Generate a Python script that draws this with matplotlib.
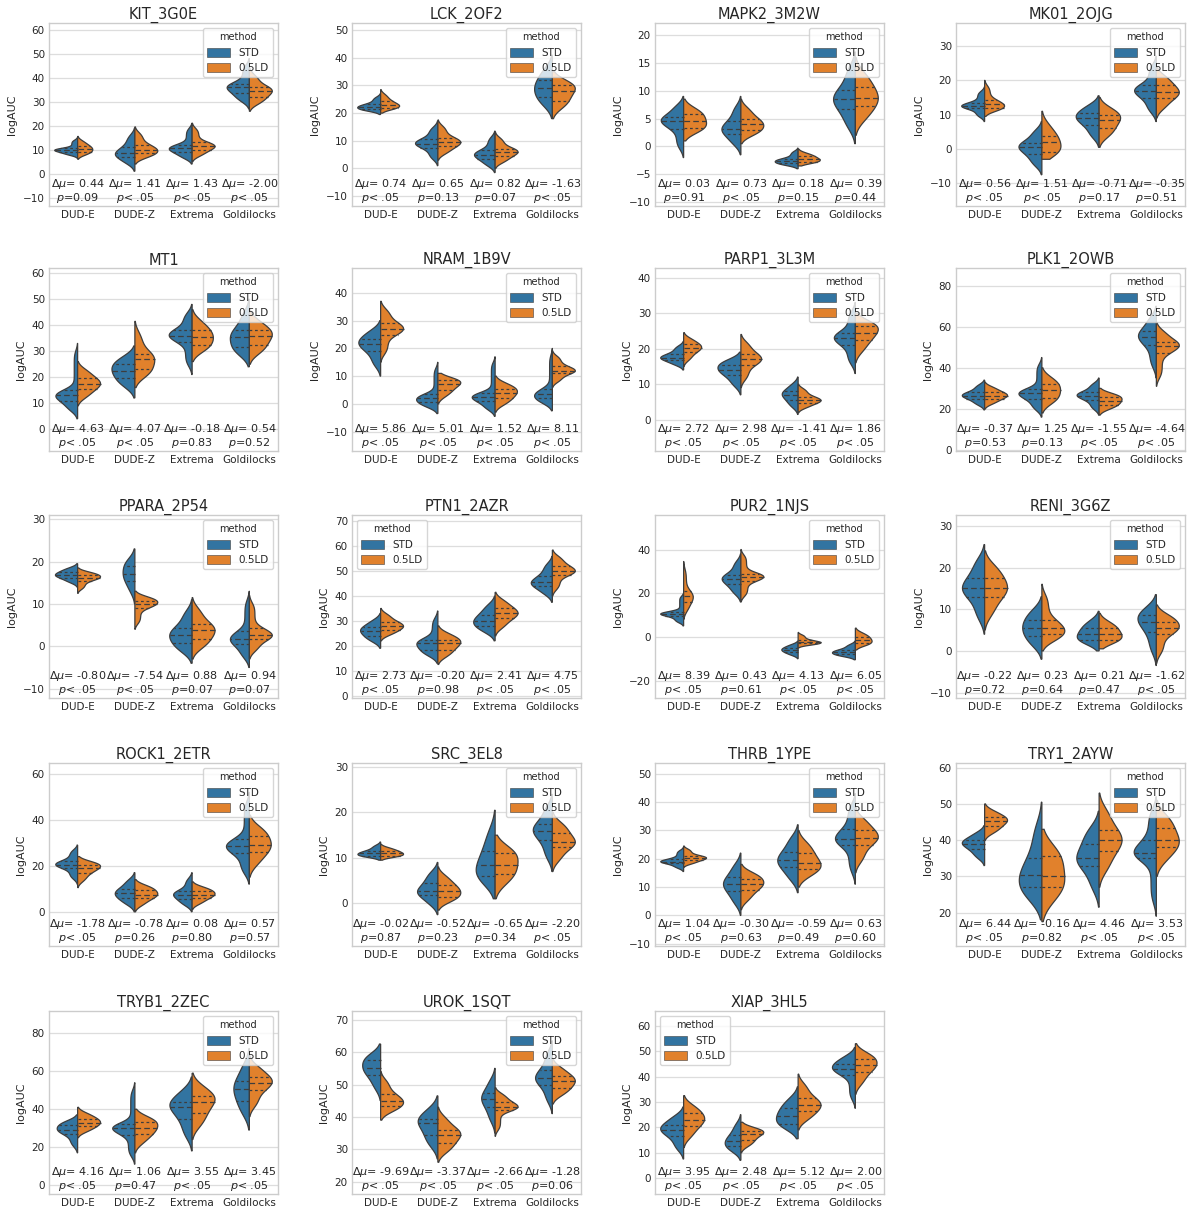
import math
import numpy as np
import matplotlib
matplotlib.use("Agg")
import matplotlib.pyplot as plt
import matplotlib.transforms as mtransforms
from matplotlib.patches import Patch
from matplotlib.ticker import MultipleLocator

targets = ["KIT_3G0E", "LCK_2OF2", "MAPK2_3M2W", "MK01_2OJG",
           "MT1", "NRAM_1B9V", "PARP1_3L3M", "PLK1_2OWB",
           "PPARA_2P54", "PTN1_2AZR", "PUR2_1NJS", "RENI_3G6Z",
           "ROCK1_2ETR", "SRC_3EL8", "THRB_1YPE", "TRY1_2AYW",
           "TRYB1_2ZEC", "UROK_1SQT", "XIAP_3HL5"]
decoy_sets = ["DUD-E", "DUDE-Z", "Extrema", "Goldilocks"]
methods = ["STD", "0.5LD"]

# logAUC summary per decoy set: (low tip, Q1, median, Q3, high tip)
std_stats = [
    [(6.5, 9, 9.8, 10.5, 15), (1, 7, 8.5, 11, 19), (4, 9, 10.5, 12, 21), (27, 33.5, 36, 37.5, 48)],
    [(19.5, 21.5, 22.3, 23.2, 27), (1, 7.5, 9, 10.5, 17), (-1.5, 3.5, 5, 6.5, 13.5), (18, 26, 29, 32, 41)],
    [(-2, 3.2, 4.5, 5.3, 9), (-1.5, 2.2, 3.2, 4.5, 9), (-4, -3, -2.6, -2.2, -0.3), (0.5, 6.7, 8.5, 10.2, 17)],
    [(8, 11.8, 12.5, 13.5, 18), (-7.5, -1.5, 0.5, 1.8, 8), (0.5, 7, 9, 10.5, 15.5), (8, 15, 17, 18.5, 27)],
    [(4, 11, 13, 15, 33), (12, 19.5, 22.5, 25, 32), (21, 33.5, 36, 38, 48), (24, 31.5, 35.5, 38, 50)],
    [(10, 19, 21.5, 23.5, 30), (-3.5, 0.5, 2, 3.5, 15), (-4.5, 1, 2.5, 4, 17), (-2.5, 2, 3.5, 5.5, 20)],
    [(14, 16.8, 17.5, 18.5, 22), (7, 12.5, 14, 15.5, 19), (1.5, 5.5, 7, 8, 12), (13, 21, 23, 24.5, 33)],
    [(19.5, 25, 26.5, 28, 34), (16, 25, 27.5, 29.5, 45), (17, 24.5, 26.5, 28, 35), (35, 51, 55, 58, 70)],
    [(14, 16.2, 16.8, 17.5, 19.5), (10, 15.5, 17, 19, 23), (-4, 0.8, 2.7, 4.3, 11), (-5, 0.5, 1.8, 3.5, 13)],
    [(19, 24, 26, 27.5, 33), (13, 18.5, 21, 22.5, 34), (22, 28, 30, 32.5, 40), (37.5, 44, 45.5, 48, 56)],
    [(5, 9.5, 10.5, 11.5, 20), (16, 24, 26.5, 28.5, 38), (-10, -7, -6, -5, -2), (-10.5, -8, -7, -6, -2)],
    [(4, 13, 15, 17.5, 25.5), (-2, 3.5, 5.5, 7.5, 13), (0, 2.5, 4, 5.5, 9.5), (-3.5, 4.5, 7, 8.5, 13.5)],
    [(12, 19, 20.5, 22, 29), (0, 6, 8, 10, 17), (0, 5.5, 7.5, 9, 17), (12, 25.5, 28.5, 31.5, 52)],
    [(9.5, 10.5, 11, 11.5, 13.5), (-2.5, 1.8, 2.7, 4.5, 9), (1, 6, 8.5, 11.5, 20.5), (7, 14, 16, 17.5, 24)],
    [(15.5, 18.5, 19, 20, 24), (0, 8.5, 11, 13.5, 22), (8, 17, 19.5, 22.5, 32), (11, 25, 27, 30.5, 43)],
    [(33, 37.5, 39, 40, 44), (18, 27, 30.5, 35, 50.5), (21.5, 33, 35, 39, 48), (19, 35, 36.5, 40, 52)],
    [(17, 27, 29, 31.5, 37), (11, 26.5, 30, 32, 54), (18, 35, 41, 44, 57), (29, 44.5, 50.5, 55, 72)],
    [(45, 53, 55, 57.5, 62.5), (27, 34.5, 38, 39.5, 46.5), (35, 43, 45.5, 47.5, 55), (41, 50, 52, 54.5, 63.5)],
    [(7.5, 16.5, 19, 21, 28), (7, 12.5, 14.5, 17, 25), (15.5, 21.5, 24.5, 27.5, 36), (27.5, 40.5, 43, 45, 51.5)],
]
ld_stats = [
    [(6, 9, 10.3, 11.5, 15.5), (4, 8.5, 10, 12, 19.5), (5, 10, 11.5, 13, 21), (26, 32, 34.5, 36, 44)],
    [(20, 22, 23, 24.3, 28.5), (3, 8, 9.5, 11, 17.5), (0, 4.5, 6, 7.2, 13), (18, 24.5, 28, 30, 35)],
    [(1, 3.3, 4.5, 5.8, 8.5), (0.5, 3, 4, 5, 8.5), (-3.5, -2.8, -2.3, -1.8, -0.5), (2, 7.2, 8.8, 10.7, 16)],
    [(9.5, 12, 13, 14.3, 20), (-3, -1, 2, 3.8, 11), (0.5, 6, 8.5, 10, 15), (9, 15, 16.5, 18.5, 24)],
    [(9, 15.5, 17.5, 19.5, 26), (16, 23, 27, 29, 41.5), (26, 32.5, 35.5, 38, 46), (25, 32.5, 36, 38, 46)],
    [(15, 25, 27, 29, 37), (0, 5, 7, 8.5, 11), (-3, 2, 4, 5.5, 10), (6, 11, 12, 13.5, 19)],
    [(15, 19, 20.2, 21.2, 24.5), (9, 15.5, 17, 18.5, 24), (2, 4.8, 5.5, 6.5, 10), (16, 22.5, 24.5, 26.5, 30)],
    [(20, 25, 26.5, 28, 33), (18, 25.5, 29, 32, 40), (17, 22, 24, 26, 30), (31, 47, 50.5, 52.5, 62)],
    [(12.5, 15.5, 16.2, 16.8, 18.5), (4, 9, 10, 10.8, 13), (-3, 1.8, 3.8, 5.2, 11.5), (-3, 1.8, 2.7, 4.3, 12)],
    [(22, 26.5, 28, 29.5, 35), (12.5, 18.5, 21, 22.5, 28), (24, 31, 33, 35, 41.5), (40, 48.5, 50, 52, 58.5)],
    [(8, 16, 18.5, 21, 34.5), (16, 25.5, 27.5, 29, 40), (-5, -3, -2.5, -1.5, 2), (-6, -3, -1.5, 0, 4)],
    [(5, 13, 15, 17.5, 24), (0, 4, 5.5, 7.5, 16), (0.5, 2.5, 4, 5.5, 9), (-3, 4, 5.5, 7, 11)],
    [(10.5, 17, 19, 20.5, 24), (0, 6, 7.5, 9.5, 14), (1, 6, 7.5, 9, 13), (15, 26, 29, 33, 42)],
    [(9.5, 10.5, 11, 11.5, 13), (-1.5, 1.5, 2.7, 4, 8), (1, 6.5, 8.5, 11, 15), (7, 12.5, 13.5, 15.5, 20)],
    [(17, 19.5, 20.3, 21, 24.5), (2, 9, 11, 13, 18), (10, 16.5, 18.5, 22, 30), (15, 25, 27.5, 30, 38)],
    [(40, 43.8, 45.3, 46.3, 50), (17.5, 27, 30, 35.5, 43), (27, 37, 40, 42.8, 53), (30, 38, 40, 43.5, 51)],
    [(25, 31, 33, 35, 41), (17, 27, 30, 33.5, 40), (24, 38, 44, 47, 59), (36, 50, 54, 57, 68)],
    [(39, 43.5, 45, 47, 54), (26, 32, 34.5, 36, 43), (34, 42, 43, 44.5, 49), (44, 49, 51, 52.5, 58)],
    [(12, 20.5, 23, 25.5, 32.5), (10, 15, 17.5, 18.5, 22), (19, 26.5, 29, 31.5, 41), (33, 42, 44.5, 47, 53)],
]

# difference of means (0.5LD - STD) and p-values; None means p < .05
delta_mu = [
    [0.44, 1.41, 1.43, -2.00], [0.74, 0.65, 0.82, -1.63], [0.03, 0.73, 0.18, 0.39], [0.56, 1.51, -0.71, -0.35],
    [4.63, 4.07, -0.18, 0.54], [5.86, 5.01, 1.52, 8.11], [2.72, 2.98, -1.41, 1.86], [-0.37, 1.25, -1.55, -4.64],
    [-0.80, -7.54, 0.88, 0.94], [2.73, -0.20, 2.41, 4.75], [8.39, 0.43, 4.13, 6.05], [-0.22, 0.23, 0.21, -1.62],
    [-1.78, -0.78, 0.08, 0.57], [-0.02, -0.52, -0.65, -2.20], [1.04, -0.30, -0.59, 0.63], [6.44, -0.16, 4.46, 3.53],
    [4.16, 1.06, 3.55, 3.45], [-9.69, -3.37, -2.66, -1.28], [3.95, 2.48, 5.12, 2.00],
]
p_values = [
    [0.09, None, None, None], [None, 0.13, 0.07, None], [0.91, None, 0.15, 0.44], [None, None, 0.17, 0.51],
    [None, None, 0.83, 0.52], [None, None, None, None], [None, None, None, None], [0.53, 0.13, None, None],
    [None, None, 0.07, 0.07], [None, 0.98, None, None], [None, 0.61, None, None], [0.72, 0.64, 0.47, None],
    [None, 0.26, 0.80, 0.57], [0.87, 0.23, 0.34, None], [None, 0.63, 0.49, 0.60], [None, 0.82, None, None],
    [None, 0.47, None, None], [None, None, None, 0.06], [None, None, None, None],
]

ylims = [(-13.5, 62.8), (-13.6, 52.6), (-10.7, 22.2), (-16.6, 36.7),
         (-8.4, 62), (-17, 49), (-8.8, 42.7), (-0.5, 88.6),
         (-12.2, 31), (-1, 72.6), (-28, 55.8), (-11.3, 32.6),
         (-14.9, 64.7), (-9.4, 30.9), (-10.8, 53.8), (10.8, 61.3),
         (-4.7, 91.8), (16.2, 72.7), (-6.3, 65.9)]
ytick_steps = [10, 10, 5, 10, 10, 10, 10, 20, 10, 10, 20, 10, 20, 10, 10, 10, 20, 10, 10]
legend_locs = ["upper right"] * 19
legend_locs[9] = "upper left"
legend_locs[18] = "upper left"

colors = ["#3274a1", "#e1812c"]
edge = "#3d3d3d"
text_col = "#262626"

plt.rcParams.update({
    "font.family": "DejaVu Sans",
    "font.size": 7.5,
    "axes.edgecolor": "#cccccc",
    "axes.linewidth": 1.0,
    "axes.grid": True,
    "grid.color": "#dddddd",
    "grid.linewidth": 0.9,
    "xtick.major.size": 0,
    "ytick.major.size": 0,
    "xtick.color": text_col,
    "ytick.color": text_col,
    "axes.labelcolor": text_col,
    "text.color": text_col,
})

erf = np.vectorize(math.erf)


def norm_cdf(z):
    return 0.5 * (1.0 + erf(z / math.sqrt(2.0)))


def half_density(stats, y):
    # smoothed piecewise-uniform density with a quarter of the mass between knots
    lo, q1, med, q3, hi = stats
    bw = max(0.42 * (q3 - q1), 0.2)
    knots = [min(lo + 1.6 * bw, q1 - 0.1 * bw), q1, med, q3, max(hi - 1.6 * bw, q3 + 0.1 * bw)]
    dens = np.zeros_like(y, dtype=float)
    for a, b in zip(knots[:-1], knots[1:]):
        dens += 0.25 / (b - a) * (norm_cdf((y - a) / bw) - norm_cdf((y - b) / bw))
    return dens


def draw_half(ax, x, stats, side, color, scale):
    lo, q1, med, q3, hi = stats
    y = np.linspace(lo, hi, 200)
    w = half_density(stats, y) * scale
    xs = np.concatenate([x + side * w, [x, x]])
    ys = np.concatenate([y, [hi, lo]])
    ax.fill(xs, ys, facecolor=color, edgecolor=edge, lw=0.9, zorder=2)
    for q, ls in ((q1, (0, (2.2, 2.2))), (med, (0, (4.5, 2.5))), (q3, (0, (2.2, 2.2)))):
        wq = half_density(stats, np.array([q]))[0] * scale
        ax.plot([x, x + side * wq], [q, q], color=edge, lw=0.9, ls=ls, zorder=3)


fig = plt.figure(figsize=(11.92, 12.11), dpi=100)
W, H = 1192.0, 1211.0
col_left = [49, 352, 655, 956]
row_top = [23, 268, 515, 763, 1011]
ax_w, ax_h = 229, 183

for k, name in enumerate(targets):
    r, c = divmod(k, 4)
    ax = fig.add_axes([col_left[c] / W, 1 - (row_top[r] + ax_h) / H, ax_w / W, ax_h / H])
    ax.xaxis.grid(False)
    ax.set_axisbelow(True)

    for i in range(4):
        s_std = std_stats[k][i]
        s_ld = ld_stats[k][i]
        peak = max(half_density(s_std, np.linspace(s_std[0], s_std[4], 300)).max(),
                   half_density(s_ld, np.linspace(s_ld[0], s_ld[4], 300)).max())
        scale = 0.4 / peak
        draw_half(ax, i, s_std, -1, colors[0], scale)
        draw_half(ax, i, s_ld, 1, colors[1], scale)

        p = p_values[k][i]
        p_txt = "< .05" if p is None else "={:.2f}".format(p)
        trans = mtransforms.blended_transform_factory(ax.transData, ax.transAxes)
        ax.text(i, 0.008, "Δ$\\mu$= {:.2f}\n$p${}".format(delta_mu[k][i], p_txt),
                transform=trans, ha="center", va="bottom", fontsize=8, linespacing=1.0)

    ax.set_xlim(-0.5, 3.5)
    ax.set_ylim(*ylims[k])
    ax.yaxis.set_major_locator(MultipleLocator(ytick_steps[k]))
    ax.set_xticks(range(4))
    ax.set_xticklabels(decoy_sets)
    ax.tick_params(axis="both", labelsize=7.5, pad=3)
    ax.set_ylabel("logAUC", fontsize=8)
    ax.set_title(name, fontsize=10.5, pad=2.5)

    handles = [Patch(facecolor=colors[0], edgecolor=edge, lw=0.4),
               Patch(facecolor=colors[1], edgecolor=edge, lw=0.4)]
    leg = ax.legend(handles, methods, title="method", loc=legend_locs[k],
                    fontsize=7.5, title_fontsize=7, framealpha=0.8,
                    handleheight=1.0, handlelength=2.2, labelspacing=0.5)
    leg.get_frame().set_edgecolor("#cccccc")

fig.savefig("out.png", dpi=100)
